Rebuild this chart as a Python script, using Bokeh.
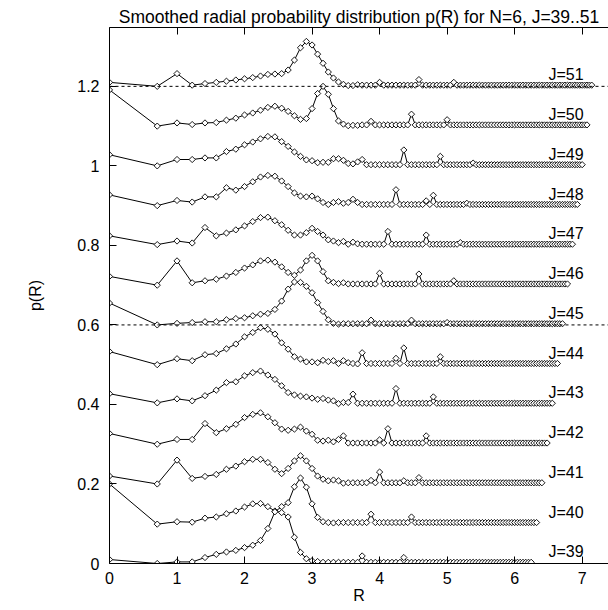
import numpy as np
from bokeh.plotting import figure
from bokeh.models import Range1d, Span, LinearAxis, FixedTicker, Label, CustomJSTickFormatter
from bokeh.embed import file_html
from bokeh.resources import INLINE

# ---- data ----
J_list = [39, 40, 41, 42, 43, 44, 45, 46, 47, 48, 49, 50, 51]
offset_step = 0.1          # vertical shift between successive J curves
tail_level = 0.003         # flat level of the long tails

# p(R) values for the first grid points R_k = sqrt(k/2), k = 0, 1, 2, ...
head_39 = [0.200, 0.099, 0.105, 0.104, 0.114, 0.117, 0.125, 0.132, 0.142, 0.150,
           0.151, 0.143, 0.132, 0.128, 0.117, 0.066, 0.028, 0.012, 0.007, 0.005]
head_40 = [-0.090, -0.100, -0.096, -0.096, -0.085, -0.077, -0.071, -0.067, -0.060, -0.054,
           -0.042, -0.012, 0.030, 0.043, 0.053, 0.093, 0.115, 0.092, 0.050, 0.016,
           0.005, 0.003, 0.002]
head_41 = [0.020, 0.000, 0.060, 0.014, 0.019, 0.024, 0.037, 0.045, 0.056, 0.062,
           0.062, 0.054, 0.037, 0.026, 0.039, 0.058, 0.071, 0.058, 0.039, 0.020,
           0.012, 0.008, 0.010, 0.008, 0.002]
head_42 = [0.027, 0.000, 0.012, 0.012, 0.052, 0.029, 0.039, 0.050, 0.067, 0.075,
           0.079, 0.069, 0.054, 0.038, 0.035, 0.038, 0.043, 0.033, 0.025, 0.010,
           0.008, 0.010, 0.006, 0.012]
head_43 = [0.027, 0.004, 0.014, 0.009, 0.022, 0.036, 0.055, 0.057, 0.072, 0.080,
           0.084, 0.074, 0.063, 0.047, 0.030, 0.024, 0.021, 0.019, 0.016, 0.013,
           0.015, 0.011, 0.009, 0.002, 0.005, 0.005]
head_44 = [0.033, 0.000, 0.015, 0.010, 0.025, 0.028, 0.040, 0.052, 0.070, 0.081,
           0.093, 0.089, 0.077, 0.055, 0.039, 0.020, 0.014, 0.007, 0.007, 0.005,
           0.011, 0.008, 0.010, 0.003, 0.010, 0.005, 0.003, 0.002]
head_45 = [0.055, 0.000, 0.004, 0.006, 0.008, 0.008, 0.013, 0.016, 0.018, 0.023,
           0.027, 0.029, 0.039, 0.060, 0.090, 0.108, 0.107, 0.097, 0.081, 0.056,
           0.034, 0.013, 0.004, 0.002]
head_46 = [0.022, 0.000, 0.061, 0.006, 0.011, 0.015, 0.023, 0.032, 0.043, 0.051,
           0.061, 0.063, 0.058, 0.046, 0.032, 0.025, 0.038, 0.061, 0.075, 0.061,
           0.034, 0.011, 0.007, 0.004, 0.006]
head_47 = [0.024, 0.002, 0.011, 0.006, 0.045, 0.024, 0.031, 0.039, 0.049, 0.060,
           0.070, 0.071, 0.062, 0.052, 0.038, 0.026, 0.026, 0.032, 0.043, 0.035,
           0.026, 0.014, 0.011, 0.007, 0.010, 0.003, 0.008, 0.004]
head_48 = [0.027, 0.000, 0.013, 0.009, 0.022, 0.022, 0.045, 0.039, 0.048, 0.060,
           0.072, 0.076, 0.074, 0.062, 0.048, 0.032, 0.024, 0.022, 0.024, 0.017,
           0.008, 0.003, 0.008, 0.010, 0.006, 0.008, 0.016, 0.008]
head_49 = [0.028, 0.000, 0.016, 0.016, 0.020, 0.020, 0.036, 0.042, 0.053, 0.060,
           0.068, 0.074, 0.073, 0.061, 0.049, 0.035, 0.024, 0.015, 0.013, 0.008,
           0.009, 0.009, 0.018, 0.018, 0.014, 0.006, 0.005, 0.010, 0.016]
head_50 = [0.091, 0.000, 0.008, 0.004, 0.008, 0.009, 0.015, 0.020, 0.028, 0.033,
           0.040, 0.047, 0.050, 0.045, 0.037, 0.026, 0.017, 0.019, 0.044, 0.082,
           0.100, 0.080, 0.044, 0.013, 0.005, 0.001, 0.002, 0.002]
head_51 = [0.010, 0.000, 0.032, 0.003, 0.007, 0.010, 0.013, 0.016, 0.019, 0.022,
           0.026, 0.030, 0.031, 0.032, 0.041, 0.066, 0.097, 0.113, 0.104, 0.081,
           0.058, 0.036, 0.021, 0.011, 0.005, 0.002, 0.002, 0.004]

# isolated spikes in the tails: {k: p}
spikes_39 = {28: 0.019, 38: 0.015}
spikes_40 = {30: 0.024, 40: 0.017}
spikes_41 = {30: 0.009, 32: 0.030, 38: 0.008, 42: 0.016}
spikes_42 = {24: 0.021, 32: 0.011, 34: 0.039, 44: 0.021}
spikes_43 = {26: 0.026, 36: 0.040, 46: 0.019}
spikes_44 = {28: 0.030, 36: 0.016, 38: 0.042, 48: 0.020}
spikes_45 = {30: 0.012, 40: 0.012, 50: 0.006}
spikes_46 = {32: 0.030, 42: 0.028, 52: 0.011}
spikes_47 = {34: 0.035, 44: 0.026, 54: 0.007}
spikes_48 = {36: 0.040, 44: 0.012, 46: 0.026, 56: 0.006}
spikes_49 = {38: 0.040, 48: 0.024, 58: 0.007}
spikes_50 = {30: 0.012, 40: 0.030, 50: 0.016}
spikes_51 = {32: 0.010, 42: 0.017, 52: 0.010}

heads = {39: head_39, 40: head_40, 41: head_41, 42: head_42, 43: head_43,
         44: head_44, 45: head_45, 46: head_46, 47: head_47, 48: head_48,
         49: head_49, 50: head_50, 51: head_51}
spikes = {39: spikes_39, 40: spikes_40, 41: spikes_41, 42: spikes_42, 43: spikes_43,
          44: spikes_44, 45: spikes_45, 46: spikes_46, 47: spikes_47, 48: spikes_48,
          49: spikes_49, 50: spikes_50, 51: spikes_51}

x_ticks = [0, 1, 2, 3, 4, 5, 6, 7]
y_ticks = [0, 0.2, 0.4, 0.6, 0.8, 1, 1.2]
y_tick_labels = {0: "0", 0.2: "0.2", 0.4: "0.4", 0.6: "0.6", 0.8: "0.8", 1: "1", 1.2: "1.2"}
dashed_levels = [0.6, 1.2]
title_text = "Smoothed radial probability distribution p(R) for N=6, J=39..51"

FONT = "Liberation Sans"

p = figure(width=608, height=610, output_backend="svg", toolbar_location=None,
           x_range=Range1d(0, 7.39), y_range=Range1d(0, 1.348),
           min_border_left=109, min_border_right=0, min_border_top=27,
           min_border_bottom=47)
p.background_fill_color = "white"
p.border_fill_color = "white"
p.outline_line_color = None
p.xgrid.visible = False
p.ygrid.visible = False

p.title.text = title_text
p.title.align = "center"
p.title.text_font = FONT
p.title.text_font_size = "17.5px"
p.title.text_font_style = "normal"
p.title.text_color = "black"
p.title.standoff = 2
p.title.offset = 3

for ax in (p.xaxis[0], p.yaxis[0]):
    ax.major_tick_in = 7
    ax.major_tick_out = 0
    ax.minor_tick_line_color = None
    ax.axis_line_color = "black"
    ax.major_tick_line_color = "black"
    ax.major_label_text_font = FONT
    ax.major_label_text_font_size = "16px"
    ax.major_label_text_color = "black"
    ax.axis_label_text_font = FONT
    ax.axis_label_text_font_size = "16px"
    ax.axis_label_text_font_style = "normal"
    ax.axis_label_text_color = "black"

p.xaxis.ticker = FixedTicker(ticks=x_ticks)
p.xaxis.axis_label = "R"
p.xaxis.major_label_standoff = 8
p.xaxis.axis_label_standoff = 0

p.yaxis.ticker = FixedTicker(ticks=y_ticks)
p.yaxis.major_label_overrides = y_tick_labels
p.yaxis.axis_label = "p(R)"
p.yaxis.major_label_standoff = 10
p.yaxis.axis_label_standoff = 30

# mirrored top border with inward ticks, no labels
top = LinearAxis(ticker=FixedTicker(ticks=x_ticks), major_tick_in=7, major_tick_out=0,
                 minor_tick_line_color=None,
                 formatter=CustomJSTickFormatter(code="return ''"),
                 major_label_standoff=0, axis_line_color="black")
p.add_layout(top, "above")

for lev in dashed_levels:
    p.add_layout(Span(location=lev, dimension="width", line_color="black",
                      line_width=1, line_dash="3 3"))

for J in J_list:
    off = (J - 39) * offset_step
    n = 2 * J + 1
    k = np.arange(n)
    xs = np.sqrt(k / 2.0)
    vals = []
    h = heads[J]
    for kk in range(n):
        if kk < len(h):
            vals.append(h[kk])
        else:
            vals.append(spikes[J].get(kk, tail_level))
    ys = np.array(vals) + off
    p.line(xs, ys, line_color="black", line_width=1)
    p.scatter(xs, ys, marker="square", angle=np.pi / 4, size=4.4,
              fill_color="white", line_color="black", line_width=0.9)
    p.add_layout(Label(x=6.5, y=off + 0.029, text=f"J={J}", text_font=FONT,
                       text_font_size="16px", text_color="black",
                       text_baseline="alphabetic", text_align="left"))

open("out.html", "w").write(file_html(p, INLINE))
